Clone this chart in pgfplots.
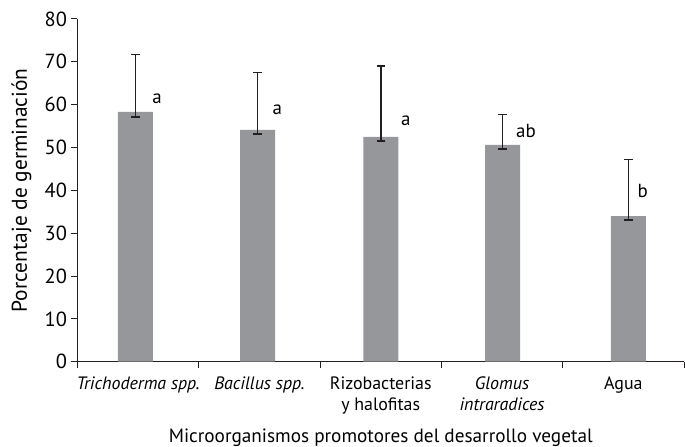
\documentclass[border=0pt]{standalone}
\usepackage{fontspec}
\setmainfont{PT Sans}
\usepackage{pgfplots}
\usepackage{pgfplotstable}
\pgfplotsset{compat=1.18}
\definecolor{bargray}{RGB}{150,151,155}
\definecolor{ink}{RGB}{35,31,32}
\pgfplotstableread{
x      y     ep    em
0.478  58.3  13.4  1.2
1.484  54.1  13.4  0.9
2.502  52.5  16.6  0.9
3.504  50.6  7.1   0.9
4.542  34.0  13.2  0.9
}\germ
\begin{document}
\begin{tikzpicture}
\useasboundingbox (-77.5bp,-85.3bp) rectangle (607.5bp,361.7bp);
\begin{axis}[
  at={(0,0)}, anchor=south west,
  scale only axis, width=606.5bp, height=342.7bp,
  xmin=0, xmax=5, ymin=0, ymax=80,
  axis x line*=bottom, axis y line*=left,
  axis line style={-, draw=ink, line width=1bp},
  tick align=outside, major tick length=6bp,
  tick style={draw=ink, line width=1bp},
  ytick={0,10,...,80},
  xtick={0,1,2,3,4,5}, xticklabels={},
  extra x ticks={0.5,1.5,2.5,3.5,4.5},
  extra x tick labels={{\textit{Trichoderma spp.}},{\textit{Bacillus spp.}},{Rizobacterias\\y halofitas},{\textit{Glomus}\\\textit{intraradices}},{Agua}},
  extra x tick style={major tick length=0pt,
    tick label style={align=center, font=\fontsize{18}{20.7}\selectfont, anchor=north, yshift=-12bp}},
  yticklabel style={font=\fontsize{20.5}{22}\selectfont, xshift=-1bp},
  /pgf/number format/assume math mode=true,
  ylabel={Porcentaje de germinación},
  ylabel style={font=\fontsize{21.5}{24}\selectfont, at={(axis description cs:-0.0924,0.5)}, anchor=center},
  xlabel={Microorganismos promotores del desarrollo vegetal},
  xlabel style={font=\fontsize{19.3}{22}\selectfont, at={(axis description cs:0.5,-0.235)}, anchor=base},
  clip=false,
]
\addplot[ybar, bar width=35bp, fill=bargray, draw=none,
  error bars/.cd, y dir=both, y explicit,
  error bar style={draw=ink, line width=1.2bp},
  error mark options={draw=ink, line width=1.8bp, mark size=4.3bp, rotate=90}]
  table[x=x, y=y, y error plus=ep, y error minus=em] {\germ};
\node[font=\fontsize{19}{22}\selectfont, anchor=base, inner sep=0pt] at (axis cs:0.655,60.3) {a};
\node[font=\fontsize{19}{22}\selectfont, anchor=base, inner sep=0pt] at (axis cs:1.647,57.8) {a};
\node[font=\fontsize{19}{22}\selectfont, anchor=base, inner sep=0pt] at (axis cs:2.706,55.25) {a};
\node[font=\fontsize{19}{22}\selectfont, anchor=base, inner sep=0pt] at (axis cs:3.697,52.4) {ab};
\node[font=\fontsize{19}{22}\selectfont, anchor=base, inner sep=0pt] at (axis cs:4.66,38.4) {b};
\end{axis}
\end{tikzpicture}
\end{document}
